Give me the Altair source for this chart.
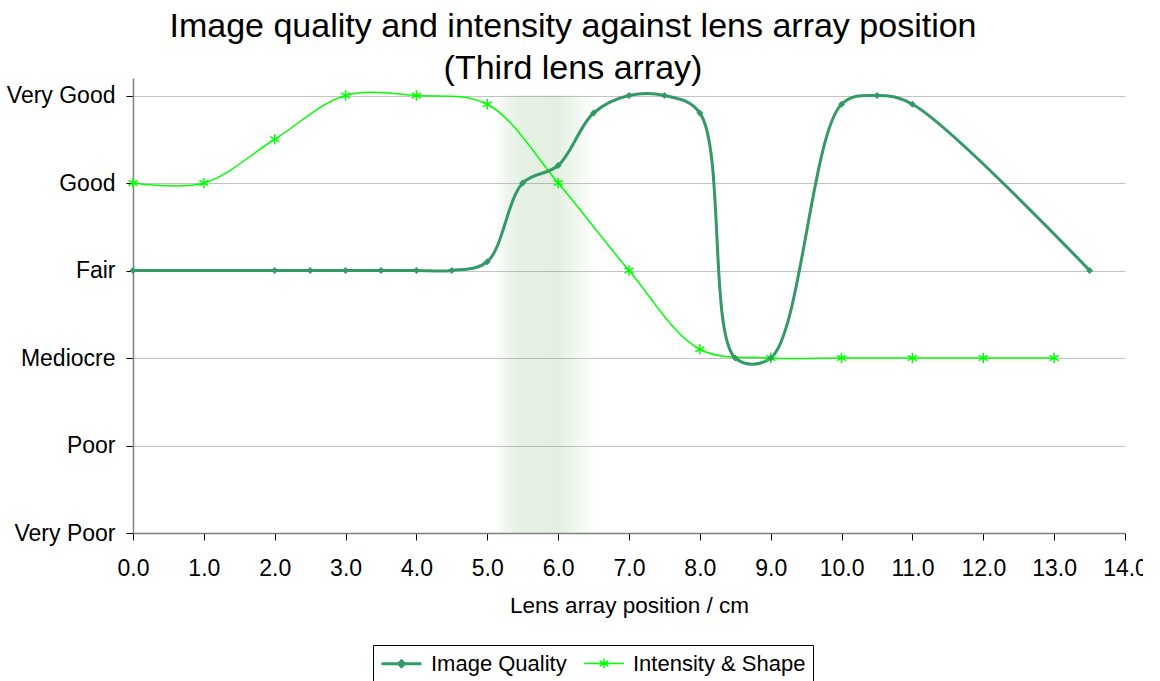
import altair as alt
import pandas as pd

# Rating scale shown on the y axis (0 = Very Poor ... 5 = Very Good)
levels = ["Very Poor", "Poor", "Mediocre", "Fair", "Good", "Very Good"]

# Image Quality series
iq_pos = [0.0, 2.0, 2.5, 3.0, 3.5, 4.0, 4.5, 5.0, 5.5, 6.0, 6.5, 7.0, 7.5, 8.0,
          8.5, 9.0, 10.0, 10.5, 11.0, 13.5]
iq_val = [3, 3, 3, 3, 3, 3, 3, 3.1, 4.0, 4.2, 4.8, 5, 5, 4.8,
          2, 2, 4.9, 5, 4.9, 3]

# Intensity & Shape series
int_pos = [0.0, 1.0, 2.0, 3.0, 4.0, 5.0, 6.0, 7.0, 8.0, 9.0, 10.0, 11.0, 12.0, 13.0]
int_val = [4, 4, 4.5, 5, 5, 4.9, 4, 3, 2.1, 2, 2, 2, 2, 2]

# Highlighted region of lens positions
band_pos = [5.1, 6.52]

series_names = ["Image Quality", "Intensity & Shape"]
series_colors = ["#339966", "#00ff00"]

FONT = "Liberation Sans"

iq_df = pd.DataFrame({"pos": iq_pos, "val": iq_val})
int_df = pd.DataFrame({"pos": int_pos, "val": int_val})
band_df = pd.DataFrame({"pos": [band_pos[0]], "pos2": [band_pos[1]],
                        "val": [5], "val2": [0]})
legend_df = pd.DataFrame({"series": series_names, "pos": [-1.0, -1.0], "val": [0, 0]})

label_expr = "[" + ",".join("'%s'" % s for s in levels) + "][datum.value]"

x_enc = alt.X(
    "pos:Q",
    scale=alt.Scale(domain=[0, 14], nice=False, zero=False),
    axis=alt.Axis(
        values=list(range(15)), format=".1f", title="Lens array position / cm",
        grid=False, tickSize=7, labelPadding=17, labelFlush=False, titlePadding=14,
    ),
)
y_enc = alt.Y(
    "val:Q",
    scale=alt.Scale(domain=[0, 5.2], nice=False),
    axis=alt.Axis(
        values=list(range(6)), labelExpr=label_expr, title=None,
        grid=True, tickSize=7, labelPadding=11,
    ),
)

asterisk = "M0,-1L0,1M-0.87,-0.5L0.87,0.5M-0.87,0.5L0.87,-0.5"

band = alt.Chart(band_df).mark_rect(
    color=alt.LinearGradient(
        gradient="linear", x1=0, x2=1, y1=0, y2=0,
        stops=[
            alt.GradientStop(color="rgba(100,170,90,0)", offset=0),
            alt.GradientStop(color="rgba(100,170,90,0.10)", offset=0.12),
            alt.GradientStop(color="rgba(100,170,90,0.17)", offset=0.27),
            alt.GradientStop(color="rgba(100,170,90,0.18)", offset=0.62),
            alt.GradientStop(color="rgba(100,170,90,0.08)", offset=0.85),
            alt.GradientStop(color="rgba(100,170,90,0)", offset=1),
        ],
    )
).encode(x=x_enc, x2="pos2:Q", y=y_enc, y2="val2:Q")

iq_line = alt.Chart(iq_df).mark_line(
    interpolate="catmull-rom", color=series_colors[0], strokeWidth=3
).encode(x=x_enc, y=y_enc)
iq_pts = alt.Chart(iq_df).mark_point(
    shape="diamond", filled=True, color=series_colors[0], size=48, opacity=1
).encode(x=x_enc, y=y_enc)

int_line = alt.Chart(int_df).mark_line(
    interpolate="catmull-rom", color=series_colors[1], strokeWidth=1.5
).encode(x=x_enc, y=y_enc)
int_pts = alt.Chart(int_df).mark_point(
    shape=asterisk, filled=False, color=series_colors[1], size=110,
    strokeWidth=1.5, opacity=1
).encode(x=x_enc, y=y_enc)

# Legend symbols: a short line with the series marker in its middle
legend_paths = [
    "M-1,0L3,0M1,-0.3L1.3,0L1,0.3L0.7,0Z",
    "M-1,0L3,0M1,-0.5L1,0.5M0.57,-0.25L1.43,0.25M0.57,0.25L1.43,-0.25",
]
legend_layer = alt.Chart(legend_df).transform_filter("datum.pos > 100").mark_point(
    filled=False, size=400, opacity=1
).encode(
    x=x_enc, y=y_enc,
    stroke=alt.Stroke("series:N", scale=alt.Scale(domain=series_names, range=series_colors),
                      legend=alt.Legend(title=None)),
    shape=alt.Shape("series:N", scale=alt.Scale(domain=series_names, range=legend_paths),
                    legend=alt.Legend(title=None)),
    strokeWidth=alt.StrokeWidth("series:N", scale=alt.Scale(domain=series_names, range=[3, 1.5]),
                                legend=alt.Legend(title=None)),
)

chart = alt.layer(band, int_line, iq_line, int_pts, iq_pts, legend_layer).properties(
    width=992,
    height=455,
    title=alt.TitleParams(
        ["Image quality and intensity against lens array position", "(Third lens array)"],
        fontSize=34, font=FONT, fontWeight="normal", color="#000000",
        lineHeight=42, anchor="middle", dx=-56, offset=-8,
    ),
    autosize=alt.AutoSizeParams(type="none"),
    padding={"left": 133, "top": 78, "right": 18, "bottom": 148},
).configure_view(
    stroke=None
).configure_axis(
    labelFont=FONT, labelFontSize=23, labelColor="#000000",
    titleFont=FONT, titleFontSize=22.5, titleFontWeight="normal", titleColor="#000000",
    domainColor="#808080", domainWidth=1.5, tickColor="#000000", tickWidth=1,
    gridColor="#c4c4c4", gridWidth=1,
).configure_legend(
    orient="none", legendX=240, legendY=567, direction="horizontal",
    strokeColor="#000000", padding=7,
    labelFont=FONT, labelFontSize=22, labelColor="#000000", labelLimit=0,
    labelOffset=28, columnPadding=14, symbolSize=400,
)

chart.save("out.html", embed_options={"renderer": "svg", "actions": False})
